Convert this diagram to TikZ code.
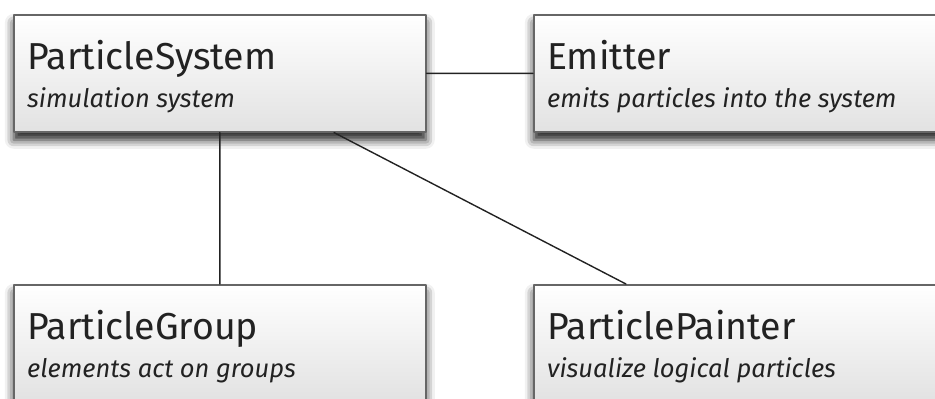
\documentclass[tikz,border=0pt]{standalone}
\usepackage{fontspec}
\setmainfont{Fira Sans}
\usetikzlibrary{shadows.blur}
\definecolor{ink}{HTML}{222222}
\definecolor{boxline}{HTML}{666666}
\definecolor{boxbottom}{HTML}{E2E2E2}
\begin{document}
\begin{tikzpicture}[x=1pt, y=-1pt, line cap=round, line join=round,
	box/.style={rectangle, draw=boxline, line width=1.6pt, minimum width=412pt, minimum height=117pt,
		anchor=north west, inner sep=0pt, top color=white, bottom color=boxbottom,
		blur shadow={shadow xshift=0pt, shadow yshift=-8pt, shadow blur radius=9pt, shadow opacity=90}},
	title/.style={anchor=base west, inner sep=0pt, text=ink, font=\fontsize{37.5}{44}\selectfont},
	subtitle/.style={anchor=base west, inner sep=0pt, text=ink, font=\itshape\fontsize{25.5}{30}\selectfont},
	link/.style={draw=ink, line width=1.4pt}]
	\path[use as bounding box, clip] (0,0) rectangle (935,399);
	\foreach \n/\x/\y/\t/\s in {system/13/14/ParticleSystem/simulation system,
		emitter/533/14/Emitter/emits particles into the system,
		group/13/284/ParticleGroup/elements act on groups,
		painter/533/284/ParticlePainter/visualize logical particles}
	{
		\node[box] (\n) at (\x,\y) {};
		\node[title] (\n-t) at ([shift={(14,55)}]\n.north west) {\t};
		\node[subtitle] (\n-s) at ([shift={(14,93)}]\n.north west) {\s};
	}
	\draw[link] (system) -- (emitter) (system) -- (group) (system) -- (painter);
\end{tikzpicture}
\end{document}
